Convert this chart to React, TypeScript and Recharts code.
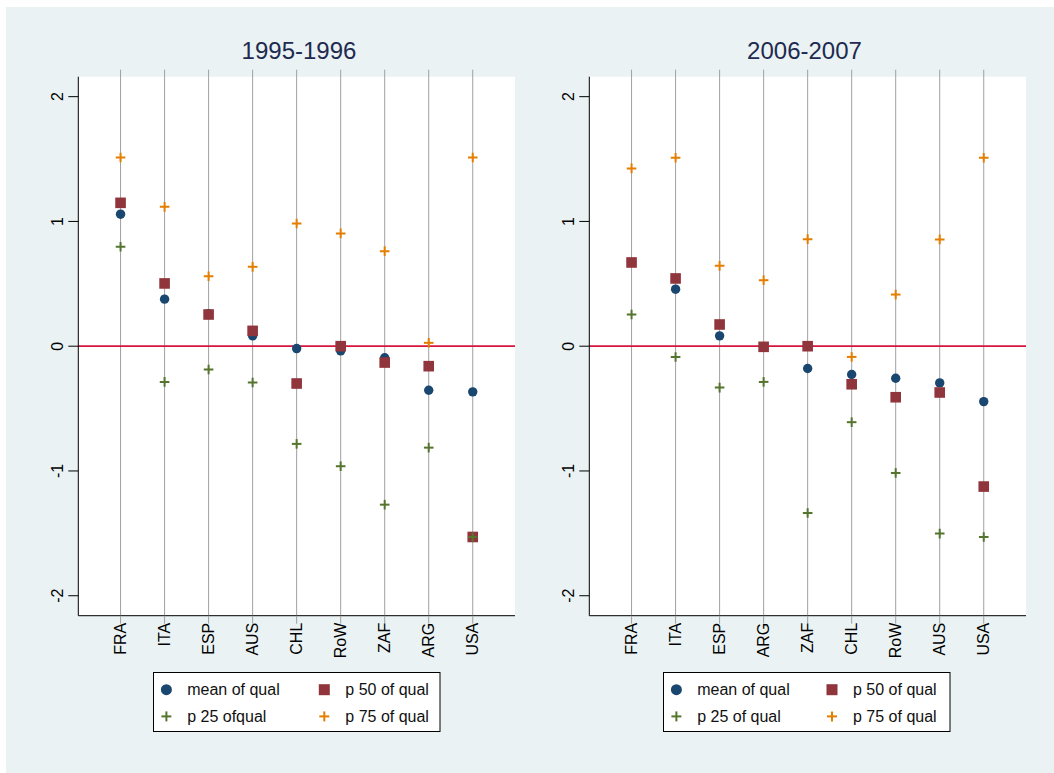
import React from 'react';
import { ScatterChart, Scatter, XAxis, YAxis, ReferenceLine, CartesianGrid } from 'recharts';

// ---- data ----
const categoriesA = ['FRA', 'ITA', 'ESP', 'AUS', 'CHL', 'RoW', 'ZAF', 'ARG', 'USA'];
const meanA = [1.058, 0.377, 0.26, 0.083, -0.019, -0.037, -0.093, -0.353, -0.366];
const p50A = [1.149, 0.503, 0.254, 0.123, -0.299, 0.0, -0.131, -0.16, -1.529];
const p25A = [0.797, -0.286, -0.187, -0.291, -0.783, -0.962, -1.27, -0.813, -1.529];
const p75A = [1.513, 1.117, 0.561, 0.636, 0.984, 0.904, 0.762, 0.027, 1.513];

const categoriesB = ['FRA', 'ITA', 'ESP', 'ARG', 'ZAF', 'CHL', 'RoW', 'AUS', 'USA'];
const meanB = [0.671, 0.457, 0.083, -0.005, -0.179, -0.227, -0.257, -0.294, -0.444];
const p50B = [0.671, 0.543, 0.174, -0.005, 0.0, -0.305, -0.409, -0.371, -1.125];
const p25B = [0.254, -0.086, -0.332, -0.286, -1.337, -0.609, -1.016, -1.502, -1.529];
const p75B = [1.425, 1.51, 0.644, 0.529, 0.858, -0.086, 0.414, 0.856, 1.51];

const yTicks = [-2, -1, 0, 1, 2];
const titleA = '1995-1996';
const titleB = '2006-2007';
const legendA = ['mean of qual', 'p 50 of qual', 'p 25 ofqual', 'p 75 of qual'];
const legendB = ['mean of qual', 'p 50 of qual', 'p 25 of qual', 'p 75 of qual'];

// ---- styles ----
const FONT = '"Liberation Sans", Arial, Helvetica, sans-serif';
const NAVY = '#1a476f';
const MAROON = '#90353b';
const GREEN = '#55752f';
const ORANGE = '#e37e00';
const GRID = '#a0a0a0';
const BG = '#eaf2f3';

const Circle = (p: any) => <circle cx={p.cx} cy={p.cy} r={4.7} fill={NAVY} />;
const Square = (p: any) => <rect x={p.cx - 5.3} y={p.cy - 5.3} width={10.6} height={10.6} fill={MAROON} />;
const makePlus = (color: string) => (p: any) => (
  <g stroke={color} strokeWidth={2}>
    <line x1={p.cx - 4.8} x2={p.cx + 4.8} y1={p.cy} y2={p.cy} />
    <line x1={p.cx} x2={p.cx} y1={p.cy - 4.8} y2={p.cy + 4.8} />
  </g>
);
const GreenPlus = makePlus(GREEN);
const OrangePlus = makePlus(ORANGE);

const toPoints = (vals: number[]) => vals.map((v, i) => ({ x: i + 1, y: v }));

const YTick = (props: any) => {
  const { x, y, payload } = props;
  const cx = x - 9;
  return (
    <text x={cx} y={y} transform={`rotate(-90 ${cx} ${y})`} textAnchor="middle" dominantBaseline="central"
      fontSize={16} fontFamily={FONT} fill="#000">{payload.value}</text>
  );
};

const makeXTick = (cats: string[]) => (props: any) => {
  const { x, y, payload } = props;
  const ty = y - 3;
  return (
    <text x={x} y={ty} transform={`rotate(-90 ${x} ${ty})`} textAnchor="end" dominantBaseline="central"
      fontSize={16} fontFamily={FONT} fill="#000">{cats[payload.value - 1]}</text>
  );
};

const X_DOMAIN: [number, number] = [0.04, 9.96];
const Y_DOMAIN: [number, number] = [-2.16, 2.16];
const GRID_TOP = 2.216;

function Panel(props: { cats: string[]; mean: number[]; p50: number[]; p25: number[]; p75: number[]; left: number }) {
  const { cats, mean, p50, p25, p75, left } = props;
  const xTicks = cats.map((_, i) => i + 1);
  const XTick = makeXTick(cats);
  return (
    <div style={{ position: 'absolute', left, top: 0 }}>
      <ScatterChart width={534} height={660} margin={{ top: 69.7, right: 25, bottom: 11.3, left: 32.3 }}>
        <CartesianGrid fill="#ffffff" horizontal={false} vertical={false} />
        {xTicks.map((t) => (
          <ReferenceLine key={t} ifOverflow="visible" stroke={GRID} strokeWidth={1}
            segment={[{ x: t, y: Y_DOMAIN[0] }, { x: t, y: GRID_TOP }]} />
        ))}
        <ReferenceLine y={0} stroke="#d6153e" strokeWidth={1.8} />
        <XAxis type="number" dataKey="x" domain={X_DOMAIN} ticks={xTicks} interval={0} allowDataOverflow
          height={40} tickSize={8} tickLine={{ stroke: GRID }} axisLine={{ stroke: '#000' }} tick={<XTick />} />
        <YAxis type="number" dataKey="y" domain={Y_DOMAIN} ticks={yTicks} allowDataOverflow width={40}
          tickSize={10} tickLine={{ stroke: '#000' }} axisLine={{ stroke: '#000' }} tick={<YTick />} />
        <Scatter data={toPoints(mean)} shape={Circle} isAnimationActive={false} />
        <Scatter data={toPoints(p50)} shape={Square} isAnimationActive={false} />
        <Scatter data={toPoints(p25)} shape={GreenPlus} isAnimationActive={false} />
        <Scatter data={toPoints(p75)} shape={OrangePlus} isAnimationActive={false} />
      </ScatterChart>
    </div>
  );
}

function LegendBox(props: { labels: string[]; left: number; col2: number }) {
  const { labels, left, col2 } = props;
  const r1 = 17.7, r2 = 44.4, b1 = 23.4, b2 = 50;
  const textStyle = { fontSize: 16, fontFamily: FONT, fill: '#111' } as any;
  return (
    <svg style={{ position: 'absolute', left, top: 665.3 }} width={288} height={60}>
      <rect x={0.5} y={0.5} width={286.5} height={59} fill="#fff" stroke="#000" strokeWidth={1} />
      <circle cx={13.4} cy={r1} r={5.5} fill={NAVY} />
      <text x={34.2} y={b1} {...textStyle}>{labels[0]}</text>
      <rect x={col2 - 5.5} y={r1 - 5.5} width={11} height={11} fill={MAROON} />
      <text x={col2 + 21} y={b1} {...textStyle}>{labels[1]}</text>
      <g stroke={GREEN} strokeWidth={2}>
        <line x1={13.4 - 5} x2={13.4 + 5} y1={r2} y2={r2} />
        <line x1={13.4} x2={13.4} y1={r2 - 5} y2={r2 + 5} />
      </g>
      <text x={34.2} y={b2} {...textStyle}>{labels[2]}</text>
      <g stroke={ORANGE} strokeWidth={2}>
        <line x1={col2 - 5} x2={col2 + 5} y1={r2} y2={r2} />
        <line x1={col2} x2={col2} y1={r2 - 5} y2={r2 + 5} />
      </g>
      <text x={col2 + 21} y={b2} {...textStyle}>{labels[3]}</text>
    </svg>
  );
}

const titleStyle = (center: number): React.CSSProperties => ({
  position: 'absolute', left: center - 150, width: 300, top: 32, textAlign: 'center',
  fontSize: 24, lineHeight: '24px', fontFamily: FONT, color: '#1e2a4f', whiteSpace: 'nowrap',
});

export default function App() {
  return (
    <div style={{ position: 'absolute', left: 6, top: 7, width: 1048, height: 766, background: BG, overflow: 'hidden' }}>
      <div style={titleStyle(293)}>{titleA}</div>
      <div style={titleStyle(798.5)}>{titleB}</div>
      <Panel cats={categoriesA} mean={meanA} p50={p50A} p25={p25A} p75={p75A} left={0} />
      <Panel cats={categoriesB} mean={meanB} p50={p50B} p25={p25B} p75={p75B} left={511} />
      <LegendBox labels={legendA} left={146.7} col2={171.3} />
      <LegendBox labels={legendB} left={657.3} col2={169} />
    </div>
  );
}
